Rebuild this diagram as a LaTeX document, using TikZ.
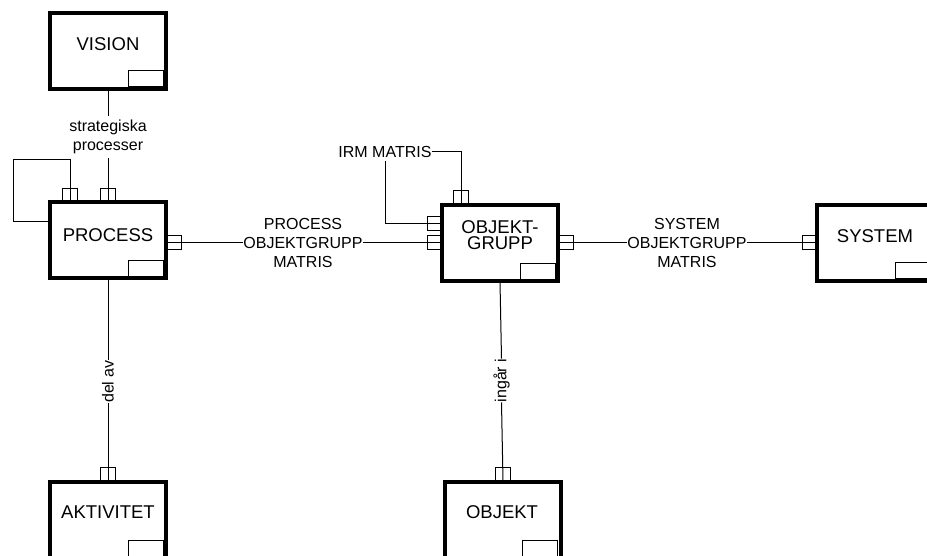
\documentclass[tikz,border=0pt]{standalone}
\usepackage{fontspec}
\setmainfont{Liberation Sans}
\begin{document}
\begin{tikzpicture}[x=1pt,y=1pt,
  box/.style={draw, line width=4pt, minimum width=116pt, minimum height=76pt, inner sep=0pt, outer sep=0pt},
  boxtext/.style={font=\fontsize{18.5}{16.5}\selectfont, align=center, inner sep=0pt},
  port/.style={draw, line width=1pt, minimum width=15pt, minimum height=14pt, inner sep=0pt, outer sep=0pt},
  lbl/.style={font=\fontsize{16}{19.4}\selectfont, align=center, inner sep=0pt},
  conn/.style={line width=1pt},
  corner/.style={line width=1pt}
]
\path[use as bounding box, clip] (0,0) rectangle (927,-556);
\fill[white] (0,0) rectangle (927,-556);

% boxes
\node[box] (vision) at (108,-51) {};
\node[box] (process) at (108,-240.5) {};
\node[box] (og) at (500,-243.5) {};
\node[box] (sys) at (875,-243) {};
\node[box] (akt) at (108,-520) {};
\node[box] (obj) at (502.5,-520) {};

\foreach \b in {vision,process,og,sys,akt,obj}{
  \draw[corner] ([xshift=-38pt,yshift=2pt]\b.south east) rectangle ([xshift=-3pt,yshift=18pt]\b.south east);
}

\node[boxtext] (visiont) at (108,-44) {VISION};
\node[boxtext] (processt) at (108,-235.5) {PROCESS};
\node[boxtext] (ogt) at (500,-235) {OBJEKT-\\GRUPP};
\node[boxtext] (syst) at (875,-236) {SYSTEM};
\node[boxtext] (aktt) at (108,-512) {AKTIVITET};
\node[boxtext] (objt) at (502,-512) {OBJEKT};

% labels
\node[lbl, inner ysep=4pt] (strat) at (108,-137) {strategiska\\processer};
\node[lbl] (procmat) at (303,-243) {PROCESS\\OBJEKTGRUPP\\MATRIS};
\node[lbl] (sysmat) at (687,-243) {SYSTEM\\OBJEKTGRUPP\\MATRIS};
\node[lbl, inner ysep=3pt] (irm) at (385,-152) {IRM MATRIS};
\node[lbl, rotate=90] (delav) at (108,-381.5) {del av};
\node[lbl, rotate=90] (ingar) at (501.5,-380.5) {ingår i};

% ports
\node[port] (pv) at (108,-196) {};
\node[port] (ploop) at (70,-196) {};
\node[port] (ppr) at (173.5,-243) {};
\node[port] (pogl1) at (434.5,-224) {};
\node[port] (pogl2) at (434.5,-243) {};
\node[port] (pogt) at (461,-197.5) {};
\node[port] (pogr) at (565.5,-243) {};
\node[port] (psys) at (810,-243) {};
\node[port] (pakt) at (108,-474.5) {};
\node[port] (pobj) at (503,-474.5) {};

\coordinate (lp) at (13,-160);

% connectors
\draw[conn] (vision.south) -- (strat.north);
\draw[conn] (strat.south) -- (pv.south);
\draw[conn] (ploop.south) |- (lp) |- ([yshift=18.5pt]process.west);
\draw[conn] (ppr.west) -- (procmat.west);
\draw[conn] (procmat.east) -- (pogl2.east);
\draw[conn] (irm.east) -| (pogt.south);
\draw[conn] (irm.south) |- (pogl1.east);
\draw[conn] (pogr.west) -- (sysmat.west);
\draw[conn] (sysmat.east) -- (psys.east);
\draw[conn] (process.south) -- (delav.east);
\draw[conn] (delav.west) -- (pakt.south);
\draw[conn] (og.south) -- (ingar.east);
\draw[conn] (ingar.west) -- (pobj.south);
\end{tikzpicture}
\end{document}
